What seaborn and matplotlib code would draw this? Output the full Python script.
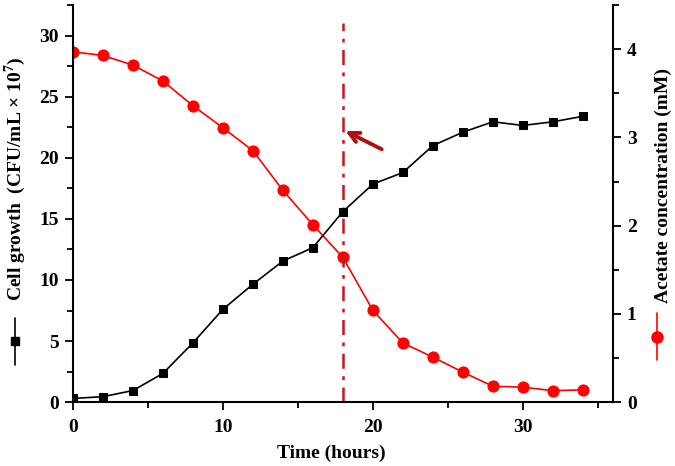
import numpy as np
import pandas as pd
import seaborn as sns
import matplotlib.pyplot as plt
from matplotlib.lines import Line2D
import matplotlib.ticker as ticker

hours = [0, 2, 4, 6, 8, 10, 12, 14, 16, 18, 20, 22, 24, 26, 28, 30, 32, 34]
cell_growth = [0.3, 0.45, 0.95, 2.35, 4.85, 7.6, 9.65, 11.55, 12.65, 15.6,
               17.85, 18.8, 21.0, 22.1, 22.95, 22.65, 22.95, 23.4]
acetate = [3.97, 3.93, 3.82, 3.64, 3.36, 3.11, 2.85, 2.40, 2.01, 1.64,
           1.04, 0.67, 0.51, 0.34, 0.18, 0.17, 0.13, 0.14]
switch_hour = 18

df = pd.DataFrame({'hours': hours, 'cell': cell_growth, 'acetate': acetate})

sns.set_style('ticks', {'axes.edgecolor': 'black', 'text.color': 'black',
                        'axes.labelcolor': 'black', 'xtick.color': 'black',
                        'ytick.color': 'black'})
plt.rcParams['font.family'] = ['Liberation Serif', 'DejaVu Serif']
plt.rcParams['font.weight'] = 'bold'
plt.rcParams['axes.labelweight'] = 'bold'
plt.rcParams['mathtext.fontset'] = 'custom'
plt.rcParams['mathtext.bf'] = 'Liberation Serif:bold'
plt.rcParams['mathtext.rm'] = 'Liberation Serif:bold'

fig = plt.figure(figsize=(6.75, 4.66), dpi=100)
ax = fig.add_axes([0.108, 0.137, 0.80, 0.852])
ax2 = ax.twinx()

sns.lineplot(data=df, x='hours', y='acetate', ax=ax2, color='#ff0000',
             marker='o', markersize=8, markeredgecolor='#ff0000', linewidth=1.2)
sns.lineplot(data=df, x='hours', y='cell', ax=ax, color='black',
             marker='s', markersize=6, markeredgecolor='black', linewidth=1.2)
ax.set_zorder(ax2.get_zorder() + 1)
ax.patch.set_visible(False)

ax.set_xlim(0, 36)
ax.set_ylim(0, 32.5)
ax2.set_ylim(0, 4.5)

ax.xaxis.set_major_locator(ticker.MultipleLocator(10))
ax.xaxis.set_minor_locator(ticker.MultipleLocator(5))
ax.yaxis.set_major_locator(ticker.MultipleLocator(5))
ax.yaxis.set_minor_locator(ticker.MultipleLocator(2.5))
ax2.yaxis.set_major_locator(ticker.MultipleLocator(1))
ax2.yaxis.set_minor_locator(ticker.MultipleLocator(0.5))

for a in (ax, ax2):
    a.tick_params(which='major', length=6, width=1.3, labelsize=14,
                  direction='out', pad=4, colors='black')
    a.tick_params(which='minor', length=4, width=1.3, direction='out',
                  colors='black')
    for s in a.spines.values():
        s.set_linewidth(1.5)
        s.set_color('black')
    a.spines['top'].set_visible(False)
ax.tick_params(axis='x', which='major', pad=6)
ax.spines['right'].set_visible(False)
ax2.spines['left'].set_visible(False)
ax2.spines['bottom'].set_visible(False)

ax.set_xlabel('Time (hours)', fontsize=14)
ax.xaxis.set_label_coords(0.478, -0.107)
ax.set_ylabel('Cell growth  (CFU/mL × 10$^{\\mathbf{7}}$)', fontsize=14)
ax.yaxis.set_label_coords(-0.083, 0.562)
ax2.set_ylabel('Acetate concentration (mM)', fontsize=14, rotation=90)
ax2.yaxis.set_label_coords(1.077, 0.545)

# switch point and arrow
ax.axvline(switch_hour, ymin=0, ymax=31 / 32.5, color='#c8141e',
           linestyle=(0, (6, 3, 1.5, 3)), linewidth=1.8, zorder=1)
ax.annotate('', xy=(switch_hour, 22.3), xytext=(20.75, 20.6),
            arrowprops=dict(arrowstyle='->', color='#b01010', lw=2.8,
                            mutation_scale=18))

# symbols in front of the axis labels
fig.add_artist(Line2D([15 / 675, 15 / 675], [1 - 365 / 466, 1 - 318 / 466],
                      color='black', lw=1.2, transform=fig.transFigure))
fig.add_artist(Line2D([15 / 675], [1 - 341 / 466], color='black', marker='s',
                      markersize=6, linestyle='none', transform=fig.transFigure))
fig.add_artist(Line2D([657 / 675, 657 / 675], [1 - 360 / 466, 1 - 313 / 466],
                      color='#ff0000', lw=1.2, transform=fig.transFigure))
fig.add_artist(Line2D([657 / 675], [1 - 337 / 466], color='#ff0000', marker='o',
                      markersize=8, linestyle='none', transform=fig.transFigure))

fig.savefig('out.png', dpi=100)
